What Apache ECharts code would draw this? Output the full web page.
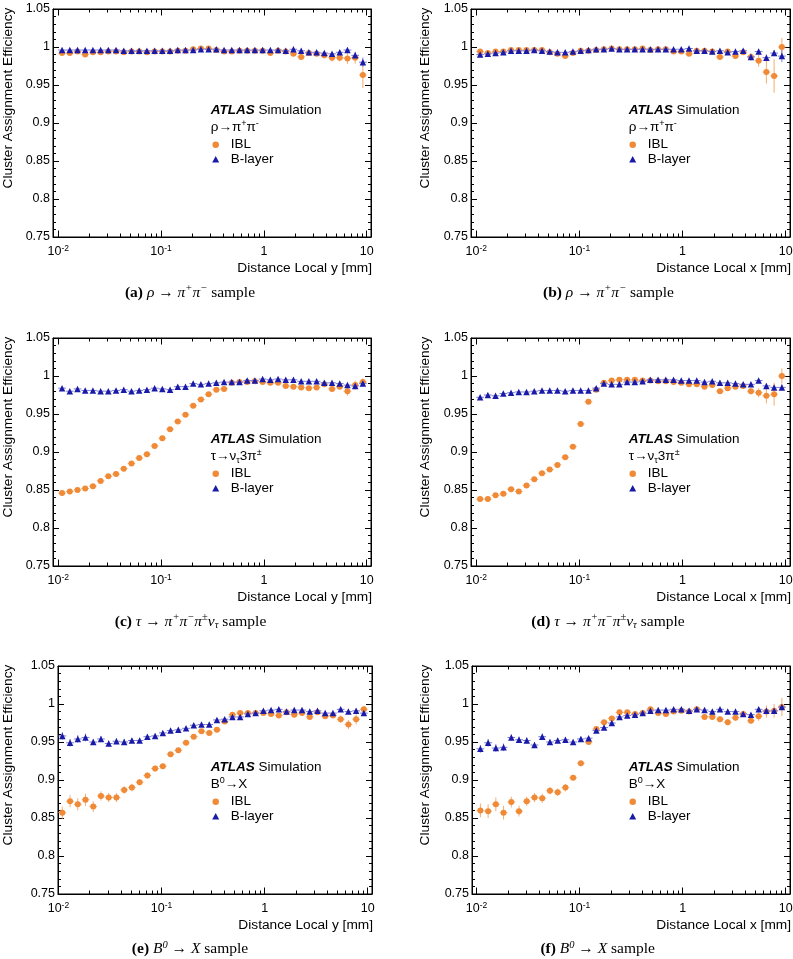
<!DOCTYPE html>
<html><head><meta charset="utf-8">
<script src="https://cdn.jsdelivr.net/npm/echarts@6/dist/echarts.min.js"></script>
<style>html,body{margin:0;padding:0;background:#fff}#c{width:793px;height:959px}</style>
</head><body><div id="c"></div>
<script>
// ---------- data ----------
const binEdges = [0.01000,0.01189,0.01413,0.01679,0.01995,0.02371,0.02818,0.03350,0.03981,0.04732,0.05623,0.06683,0.07943,0.09441,0.1122,0.1334,0.1585,0.1884,0.2239,0.2661,0.3162,0.3758,0.4467,0.5309,0.6310,0.7499,0.8913,1.0593,1.2589,1.4962,1.7783,2.1135,2.5119,2.9854,3.5481,4.2170,5.0119,5.9566,7.0795,8.4140,10.000];
const xTickValues = [0.01, 0.1, 1, 10];
const xTickLabels = [['10','-2'],['10','-1'],['1',''],['10','']];
const xMinorTicks = [0.02,0.03,0.04,0.05,0.06,0.07,0.08,0.09,0.2,0.3,0.4,0.5,0.6,0.7,0.8,0.9,2,3,4,5,6,7,8,9];
const yMin = 0.75, yMax = 1.05, yStep = 0.05;

const iblA = [0.992,0.992,0.994,0.990,0.993,0.993,0.994,0.994,0.993,0.994,0.994,0.993,0.994,0.994,0.994,0.995,0.995,0.997,0.998,0.998,0.996,0.994,0.994,0.995,0.995,0.995,0.995,0.992,0.995,0.994,0.991,0.987,0.992,0.991,0.989,0.986,0.986,0.985,0.986,0.963];
const iblAErr = [0.0015,0.0015,0.0015,0.0015,0.0015,0.0015,0.0015,0.0015,0.0015,0.0015,0.0015,0.0015,0.0015,0.0015,0.0015,0.0015,0.0015,0.0015,0.0015,0.0015,0.0015,0.0015,0.0015,0.0015,0.0015,0.0015,0.0015,0.002,0.002,0.002,0.002,0.003,0.003,0.003,0.004,0.005,0.005,0.007,0.008,0.017];
const blA = [0.996,0.996,0.996,0.996,0.996,0.996,0.996,0.996,0.995,0.995,0.995,0.995,0.995,0.995,0.995,0.996,0.996,0.996,0.997,0.997,0.997,0.996,0.996,0.996,0.996,0.996,0.996,0.996,0.996,0.995,0.997,0.995,0.993,0.993,0.992,0.991,0.993,0.996,0.989,0.980];
const blAErr = [0.001,0.001,0.001,0.001,0.001,0.001,0.001,0.001,0.001,0.001,0.001,0.001,0.001,0.001,0.001,0.001,0.001,0.001,0.001,0.001,0.001,0.001,0.001,0.001,0.001,0.001,0.001,0.001,0.001,0.001,0.001,0.001,0.001,0.001,0.001,0.001,0.002,0.003,0.004,0.006];

const iblB = [0.994,0.992,0.994,0.994,0.996,0.996,0.996,0.996,0.996,0.993,0.991,0.988,0.992,0.995,0.995,0.996,0.997,0.998,0.997,0.997,0.997,0.998,0.996,0.997,0.997,0.994,0.994,0.991,0.995,0.995,0.994,0.987,0.994,0.988,0.993,0.987,0.982,0.967,0.962,1.000];
const iblBErr = [0.0015,0.0015,0.0015,0.0015,0.0015,0.0015,0.0015,0.0015,0.0015,0.0015,0.0015,0.0015,0.0015,0.0015,0.0015,0.0015,0.0015,0.0015,0.0015,0.0015,0.0015,0.0015,0.0015,0.0015,0.0015,0.0015,0.0015,0.0015,0.0015,0.0015,0.0015,0.003,0.003,0.003,0.003,0.005,0.008,0.015,0.022,0.012];
const blB = [0.990,0.991,0.992,0.993,0.995,0.995,0.995,0.996,0.995,0.994,0.993,0.993,0.994,0.995,0.996,0.997,0.997,0.998,0.997,0.997,0.997,0.997,0.997,0.997,0.997,0.997,0.997,0.998,0.995,0.995,0.994,0.995,0.993,0.994,0.995,0.987,0.994,0.986,0.992,0.988];
const blBErr = [0.001,0.001,0.001,0.001,0.001,0.001,0.001,0.001,0.001,0.001,0.001,0.001,0.001,0.001,0.001,0.001,0.001,0.001,0.001,0.001,0.001,0.001,0.001,0.001,0.001,0.001,0.001,0.001,0.001,0.001,0.001,0.001,0.001,0.001,0.001,0.004,0.003,0.004,0.004,0.008];

const iblC = [0.846,0.848,0.850,0.852,0.855,0.862,0.868,0.871,0.878,0.885,0.892,0.897,0.908,0.918,0.930,0.940,0.949,0.961,0.969,0.976,0.982,0.983,0.991,0.992,0.992,0.993,0.992,0.991,0.991,0.987,0.986,0.985,0.984,0.985,0.989,0.983,0.986,0.980,0.988,0.992];
const iblCErr = [0.002,0.002,0.002,0.002,0.002,0.002,0.002,0.002,0.002,0.002,0.002,0.002,0.002,0.0015,0.0015,0.0015,0.0015,0.0015,0.0015,0.0015,0.0015,0.0015,0.0015,0.0015,0.0015,0.0015,0.0015,0.0015,0.0015,0.0015,0.0015,0.002,0.002,0.002,0.003,0.004,0.004,0.006,0.006,0.005];
const blC = [0.984,0.980,0.983,0.981,0.981,0.980,0.980,0.981,0.982,0.980,0.981,0.982,0.984,0.983,0.982,0.986,0.986,0.990,0.989,0.990,0.991,0.992,0.992,0.992,0.994,0.994,0.996,0.995,0.996,0.995,0.995,0.993,0.993,0.993,0.991,0.991,0.990,0.988,0.987,0.990];
const blCErr = [0.001,0.001,0.001,0.001,0.001,0.001,0.001,0.001,0.001,0.001,0.001,0.001,0.001,0.001,0.001,0.001,0.001,0.001,0.001,0.001,0.001,0.001,0.001,0.001,0.001,0.001,0.001,0.001,0.001,0.001,0.001,0.001,0.001,0.001,0.001,0.001,0.001,0.002,0.003,0.003];

const iblD = [0.838,0.838,0.843,0.845,0.851,0.848,0.856,0.864,0.872,0.877,0.883,0.893,0.907,0.937,0.966,0.982,0.991,0.994,0.995,0.995,0.995,0.994,0.994,0.993,0.993,0.992,0.991,0.989,0.989,0.986,0.988,0.980,0.984,0.986,0.987,0.980,0.978,0.974,0.976,1.000];
const iblDErr = [0.002,0.002,0.002,0.002,0.002,0.002,0.002,0.002,0.002,0.002,0.002,0.002,0.002,0.0015,0.0015,0.0015,0.0015,0.0015,0.0015,0.0015,0.0015,0.0015,0.0015,0.0015,0.0015,0.0015,0.0015,0.0015,0.0015,0.0015,0.002,0.003,0.003,0.003,0.003,0.004,0.006,0.010,0.015,0.010];
const blD = [0.972,0.975,0.974,0.977,0.978,0.979,0.979,0.980,0.981,0.981,0.981,0.980,0.981,0.981,0.981,0.984,0.990,0.989,0.989,0.992,0.992,0.993,0.995,0.995,0.995,0.995,0.994,0.994,0.994,0.992,0.993,0.991,0.991,0.990,0.989,0.989,0.994,0.987,0.985,0.985];
const blDErr = [0.001,0.001,0.001,0.001,0.001,0.001,0.001,0.001,0.001,0.001,0.001,0.001,0.001,0.001,0.001,0.001,0.001,0.001,0.001,0.001,0.001,0.001,0.001,0.001,0.001,0.001,0.001,0.001,0.001,0.001,0.001,0.001,0.001,0.001,0.001,0.001,0.002,0.003,0.003,0.004];

const iblE = [0.857,0.872,0.868,0.874,0.865,0.879,0.877,0.877,0.887,0.890,0.897,0.906,0.915,0.918,0.934,0.939,0.949,0.957,0.964,0.962,0.966,0.977,0.986,0.988,0.988,0.988,0.988,0.987,0.985,0.989,0.986,0.988,0.983,0.989,0.984,0.985,0.980,0.973,0.980,0.993];
const iblEErr = [0.008,0.008,0.008,0.008,0.007,0.006,0.006,0.006,0.005,0.005,0.004,0.004,0.004,0.003,0.003,0.003,0.003,0.002,0.002,0.002,0.002,0.002,0.002,0.002,0.002,0.002,0.002,0.002,0.002,0.002,0.002,0.003,0.003,0.003,0.003,0.003,0.005,0.006,0.007,0.004];
const blE = [0.958,0.949,0.954,0.956,0.950,0.954,0.948,0.951,0.950,0.952,0.952,0.957,0.958,0.962,0.965,0.966,0.968,0.972,0.973,0.973,0.979,0.980,0.983,0.983,0.987,0.988,0.991,0.992,0.993,0.990,0.992,0.992,0.990,0.991,0.988,0.988,0.993,0.990,0.991,0.988];
const blEErr = [0.005,0.005,0.005,0.005,0.004,0.004,0.004,0.004,0.004,0.003,0.003,0.003,0.003,0.002,0.002,0.002,0.002,0.002,0.002,0.002,0.002,0.0015,0.0015,0.0015,0.0015,0.0015,0.0015,0.0015,0.0015,0.0015,0.0015,0.0015,0.0015,0.0015,0.0015,0.0015,0.002,0.002,0.002,0.002];

const iblF = [0.860,0.859,0.868,0.857,0.871,0.859,0.872,0.877,0.876,0.886,0.884,0.890,0.903,0.922,0.950,0.967,0.976,0.981,0.989,0.989,0.987,0.988,0.993,0.988,0.987,0.990,0.991,0.990,0.993,0.983,0.983,0.980,0.976,0.982,0.987,0.978,0.984,0.990,0.991,0.996];
const iblFErr = [0.009,0.009,0.009,0.009,0.007,0.007,0.006,0.006,0.006,0.005,0.005,0.005,0.003,0.003,0.003,0.002,0.002,0.002,0.002,0.002,0.002,0.002,0.002,0.002,0.002,0.002,0.002,0.002,0.002,0.002,0.002,0.004,0.004,0.004,0.004,0.004,0.006,0.008,0.009,0.012];
const blF = [0.941,0.949,0.942,0.943,0.956,0.953,0.952,0.946,0.957,0.950,0.952,0.953,0.950,0.954,0.955,0.965,0.969,0.975,0.983,0.985,0.986,0.988,0.991,0.992,0.992,0.993,0.993,0.991,0.993,0.992,0.990,0.993,0.990,0.990,0.987,0.986,0.993,0.991,0.991,0.996];
const blFErr = [0.005,0.005,0.005,0.005,0.004,0.004,0.004,0.004,0.004,0.003,0.003,0.003,0.003,0.003,0.003,0.002,0.002,0.002,0.002,0.002,0.002,0.002,0.002,0.002,0.002,0.002,0.002,0.002,0.002,0.002,0.002,0.002,0.002,0.002,0.002,0.002,0.003,0.003,0.003,0.003];

const yTitle = 'Cluster Assignment Efficiency';
const seriesNames = ['IBL', 'B-layer'];
const panels = [
  {ibl: iblA, iblErr: iblAErr, bl: blA, blErr: blAErr, xTitle: 'Distance Local y [mm]',
   process: '{t|ρ→π}{sup|+}{t|π}{sup|-}',
   caption: '{bd|(a)}{it| ρ}{rm| → }{it|π}{sup|+}{it|π}{sup|−}{rm| sample}'},
  {ibl: iblB, iblErr: iblBErr, bl: blB, blErr: blBErr, xTitle: 'Distance Local x [mm]',
   process: '{t|ρ→π}{sup|+}{t|π}{sup|-}',
   caption: '{bd|(b)}{it| ρ}{rm| → }{it|π}{sup|+}{it|π}{sup|−}{rm| sample}'},
  {ibl: iblC, iblErr: iblCErr, bl: blC, blErr: blCErr, xTitle: 'Distance Local y [mm]',
   process: '{t|τ→ν}{sub|τ}{t|3π}{sup|±}',
   caption: '{bd|(c)}{it| τ}{rm| → }{it|π}{sup|+}{it|π}{sup|−}{it|π}{sup|±}{it|ν}{sub|τ}{rm| sample}'},
  {ibl: iblD, iblErr: iblDErr, bl: blD, blErr: blDErr, xTitle: 'Distance Local x [mm]',
   process: '{t|τ→ν}{sub|τ}{t|3π}{sup|±}',
   caption: '{bd|(d)}{it| τ}{rm| → }{it|π}{sup|+}{it|π}{sup|−}{it|π}{sup|±}{it|ν}{sub|τ}{rm| sample}'},
  {ibl: iblE, iblErr: iblEErr, bl: blE, blErr: blEErr, xTitle: 'Distance Local y [mm]',
   process: '{t|B}{sup|0}{t|→X}',
   caption: '{bd|(e)}{it| B}{sup|0}{rm| → }{it|X}{rm| sample}'},
  {ibl: iblF, iblErr: iblFErr, bl: blF, blErr: blFErr, xTitle: 'Distance Local x [mm]',
   process: '{t|B}{sup|0}{t|→X}',
   caption: '{bd|(f)}{it| B}{sup|0}{rm| → }{it|X}{rm| sample}'}
];

// ---------- layout / style ----------
const layout = [
  {left:53,  top:9,   width:318, height:228, xMin:0.0089, xMax:11, yGap:38,   textX:210.7, markX:215.7, capX:190,   capY:292.7},
  {left:471, top:9,   width:319, height:228, xMin:0.0089, xMax:11, yGap:38.5, textX:628.7, markX:632.7, capX:608.5, capY:292.7},
  {left:53,  top:338, width:318, height:228, xMin:0.0089, xMax:11, yGap:38,   textX:210.7, markX:215.7, capX:190.5, capY:621.7},
  {left:471, top:338, width:319, height:228, xMin:0.0089, xMax:11, yGap:38.5, textX:628.7, markX:632.7, capX:608,   capY:621.7},
  {left:58,  top:666, width:314, height:228, xMin:0.0099, xMax:11, yGap:43,   textX:210.7, markX:215.7, capX:190,   capY:949},
  {left:472, top:666, width:318, height:228, xMin:0.00904,xMax:11, yGap:39.5, textX:628.7, markX:632.7, capX:597.7, capY:949}
];
const FONT = "'Liberation Sans', Arial, Helvetica, sans-serif";
const SERIF = "'Liberation Serif', 'Times New Roman', serif";
const ORANGE = '#f08a36', ORANGE_ERR = '#f4ac6e';
const BLUE = '#1a1aa8', BLUE_ERR = '#7b7bd6';

const sansRich = {
  t: {fontSize:13.5, fontFamily:FONT, fill:'#000', lineHeight:17},
  a: {fontSize:13.5, fontFamily:FONT, fill:'#000', fontWeight:'bold', fontStyle:'italic', lineHeight:17},
  sup: {fontSize:9, fontFamily:FONT, fill:'#000', lineHeight:9, verticalAlign:'top'},
  sub: {fontSize:9, fontFamily:FONT, fill:'#000', lineHeight:9, verticalAlign:'bottom'}
};
const serifRich = {
  bd: {fontSize:15.5, fontFamily:SERIF, fill:'#000', fontWeight:'bold', lineHeight:19},
  it: {fontSize:15.5, fontFamily:SERIF, fill:'#000', fontStyle:'italic', lineHeight:19},
  rm: {fontSize:15.5, fontFamily:SERIF, fill:'#000', lineHeight:19},
  sup: {fontSize:10.5, fontFamily:SERIF, fill:'#000', fontStyle:'italic', lineHeight:10, verticalAlign:'top'},
  sub: {fontSize:10.5, fontFamily:SERIF, fill:'#000', fontStyle:'italic', lineHeight:10, verticalAlign:'bottom'}
};

function fmtLog(v) {
  const e = Math.log10(v);
  for (let i = 0; i < xTickValues.length; i++) {
    if (Math.abs(e - Math.log10(xTickValues[i])) < 1e-6) {
      const l = xTickLabels[i];
      return '{b|' + l[0] + '}' + (l[1] ? '{s|' + l[1] + '}' : '');
    }
  }
  return '';
}

const centers = binEdges.slice(0, -1).map((lo, k) => Math.sqrt(lo * binEdges[k + 1]));
function errRows(vals, errs) {
  return vals.map((v, k) => [centers[k], v, errs[k], binEdges[k], binEdges[k + 1]]);
}
function ptRows(vals) { return vals.map((v, k) => [centers[k], v]); }

function errRender(color) {
  return function (params, api) {
    const x = api.value(0), y = api.value(1), e = api.value(2), lo = api.value(3), hi = api.value(4);
    const pL = api.coord([lo, y]), pR = api.coord([hi, y]);
    const pT = api.coord([x, y + e]), pB = api.coord([x, y - e]);
    const cs = params.coordSys;
    const yTop = Math.max(cs.y, pT[1]), yBot = Math.min(cs.y + cs.height, pB[1]);
    return {type:'group', children:[
      {type:'line', shape:{x1:pL[0], y1:pL[1], x2:pR[0], y2:pR[1]}, style:{stroke:color, lineWidth:1}},
      {type:'line', shape:{x1:pT[0], y1:yTop, x2:pB[0], y2:yBot}, style:{stroke:color, lineWidth:1}}
    ]};
  };
}
function minorTickRender(params, api) {
  const cs = params.coordSys;
  const x = Math.round(api.coord([api.value(0), 0.9])[0]) + 0.5;
  const yb = cs.y + cs.height, yt = cs.y;
  return {type:'group', children:[
    {type:'line', shape:{x1:x, y1:yb, x2:x, y2:yb - 3.5}, style:{stroke:'#000', lineWidth:1}},
    {type:'line', shape:{x1:x, y1:yt, x2:x, y2:yt + 3.5}, style:{stroke:'#000', lineWidth:1}}
  ]};
}

const grids = [], xAxes = [], yAxes = [], series = [], legends = [], graphics = [];
panels.forEach((p, i) => {
  const L = layout[i];
  grids.push({left:L.left, top:L.top, width:L.width, height:L.height, show:true,
    borderColor:'#000', borderWidth:1, backgroundColor:'transparent', containLabel:false, outerBoundsMode:'none'});
  const xc = {type:'log', logBase:10, min:L.xMin, max:L.xMax, gridIndex:i,
    splitLine:{show:false}, minorTick:{show:false}, minorSplitLine:{show:false},
    axisLine:{show:true, lineStyle:{color:'#000', width:1}},
    axisTick:{show:true, inside:true, length:6.5, lineStyle:{color:'#000', width:1}}};
  xAxes.push(Object.assign({}, xc, {position:'bottom',
    axisLabel:{show:true, margin:7, formatter:fmtLog, showMinLabel:true, showMaxLabel:true,
      rich:{b:{fontSize:12.5, fontFamily:FONT, color:'#000', lineHeight:16},
            s:{fontSize:8.5, fontFamily:FONT, color:'#000', lineHeight:8, verticalAlign:'top'}}},
    name:p.xTitle, nameLocation:'end', nameGap:1, nameMoveOverlap:false,
    nameTextStyle:{fontSize:13.7, fontFamily:FONT, color:'#000', align:'right', verticalAlign:'top', padding:[24.5,0,0,0]}}));
  xAxes.push(Object.assign({}, xc, {position:'top', axisLabel:{show:false}}));
  const yc = {type:'value', min:yMin, max:yMax, interval:yStep, gridIndex:i, splitLine:{show:false},
    axisLine:{show:true, lineStyle:{color:'#000', width:1}},
    axisTick:{show:true, inside:true, length:6, lineStyle:{color:'#000', width:1}},
    minorTick:{show:true, splitNumber:5, length:3, lineStyle:{color:'#000', width:1}}};
  yAxes.push(Object.assign({}, yc, {position:'left',
    axisLabel:{show:true, margin:3, fontSize:12.5, fontFamily:FONT, color:'#000'},
    name:yTitle, nameLocation:'middle', nameRotate:90, nameGap:L.yGap, nameMoveOverlap:false,
    nameTextStyle:{fontSize:13.7, fontFamily:FONT, color:'#000', padding:[0,0,0,50]}}));
  yAxes.push(Object.assign({}, yc, {position:'right', axisLabel:{show:false}}));

  const xi = 2 * i, yi = 2 * i;
  series.push({type:'custom', name:'minor ticks ' + i, xAxisIndex:xi, yAxisIndex:yi, silent:true, clip:false,
    data:xMinorTicks.map(v => [v, 0.9]), encode:{x:0, y:1}, renderItem:minorTickRender, z:3});
  series.push({type:'custom', name:'IBL error ' + i, xAxisIndex:xi, yAxisIndex:yi, silent:true,
    data:errRows(p.ibl, p.iblErr), encode:{x:0, y:1}, renderItem:errRender(ORANGE_ERR), z:2});
  series.push({type:'scatter', name:seriesNames[0], xAxisIndex:xi, yAxisIndex:yi, symbol:'circle', symbolSize:6,
    itemStyle:{color:ORANGE, opacity:1}, data:ptRows(p.ibl), z:3});
  series.push({type:'custom', name:'B-layer error ' + i, xAxisIndex:xi, yAxisIndex:yi, silent:true,
    data:errRows(p.bl, p.blErr), encode:{x:0, y:1}, renderItem:errRender(BLUE_ERR), z:4});
  series.push({type:'scatter', name:seriesNames[1], xAxisIndex:xi, yAxisIndex:yi, symbol:'triangle', symbolSize:6.5,
    itemStyle:{color:BLUE, opacity:1}, data:ptRows(p.bl), z:5});

  legends.push({show:true, data:[{name:seriesNames[0], icon:'circle'}, {name:seriesNames[1], icon:'triangle'}],
    orient:'vertical', left:L.markX - 3.5, top:L.top + 128.75,
    itemWidth:7, itemHeight:6.5, itemGap:0.5, padding:0, selectedMode:false,
    textStyle:{fontSize:13.5, fontFamily:FONT, color:'#000', padding:[0,0,0,6.5]}});

  graphics.push({type:'text', x:L.textX, y:L.top + 101.5, silent:true,
    style:{text:'{a|ATLAS}{t| Simulation}', rich:sansRich, align:'left', verticalAlign:'middle'}});
  graphics.push({type:'text', x:L.textX, y:L.top + 118.5, silent:true,
    style:{text:p.process, rich:sansRich, align:'left', verticalAlign:'middle'}});
  graphics.push({type:'text', x:L.capX, y:L.capY, silent:true,
    style:{text:p.caption, rich:serifRich, align:'center', verticalAlign:'middle'}});
});

const chart = echarts.init(document.getElementById('c'), null, {renderer:'canvas'});
chart.setOption({
  animation:false,
  backgroundColor:'#fff',
  textStyle:{fontFamily:FONT, color:'#000'},
  grid:grids, xAxis:xAxes, yAxis:yAxes, legend:legends, series:series,
  graphic:{elements:graphics}
});
</script>
</body></html>
